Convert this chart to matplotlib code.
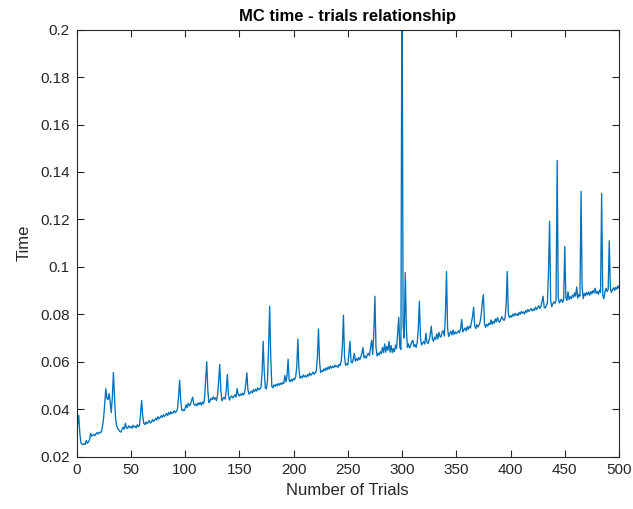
import numpy as np
import matplotlib
matplotlib.use("Agg")
import matplotlib.pyplot as plt
from matplotlib.ticker import FormatStrFormatter, MultipleLocator

# Monte Carlo run time (milliseconds) for 1..500 trials
time_ms = [
    33.5, 37.3, 30.0, 25.9, 25.2, 25.0, 25.4, 25.1, 26.8, 25.6,
    26.2, 27.0, 29.8, 28.6, 28.9, 29.4, 28.8, 29.6, 30.1, 29.5,
    30.2, 30.0, 30.6, 33.0, 36.4, 42.5, 48.6, 44.5, 44.0, 46.6,
    43.0, 38.5, 45.0, 55.4, 45.0, 36.0, 33.0, 31.8, 31.2, 30.5,
    30.3, 31.6, 32.4, 31.5, 34.0, 32.1, 31.8, 33.0, 32.2, 32.6,
    31.9, 33.2, 32.4, 32.8, 32.1, 33.4, 32.6, 33.1, 38.0, 43.6,
    37.0, 34.0, 33.5, 34.6, 33.8, 34.3, 35.2, 34.1, 34.5, 35.6,
    34.8, 35.3, 36.2, 35.4, 36.8, 35.9, 36.4, 37.2, 36.5, 37.6,
    36.9, 37.4, 38.2, 37.3, 38.6, 37.8, 38.9, 38.1, 38.4, 39.3,
    38.5, 39.0, 40.0, 45.0, 52.2, 44.0, 39.5, 39.8, 39.2, 40.1,
    41.8, 40.6, 42.5, 41.4, 42.0, 43.5, 45.0, 42.3, 41.6, 42.1,
    41.4, 42.6, 41.9, 42.8, 41.7, 43.0, 42.2, 44.5, 52.0, 60.0,
    48.0, 42.8, 43.4, 44.6, 44.0, 45.2, 44.1, 44.8, 43.6, 46.0,
    52.0, 58.8, 48.0, 43.5, 44.3, 45.0, 44.2, 48.0, 54.6, 46.0,
    43.8, 44.9, 45.6, 44.7, 45.3, 46.1, 45.0, 48.7, 46.2, 45.5,
    46.4, 45.8, 46.7, 46.0, 47.1, 50.5, 55.3, 48.0, 46.3, 46.9,
    47.5, 46.8, 48.2, 47.4, 48.4, 47.6, 49.0, 48.1, 48.6, 49.2,
    55.0, 68.6, 56.0, 49.0, 48.5, 52.0, 66.0, 83.4, 62.0, 49.5,
    49.0, 50.2, 49.6, 50.5, 49.8, 50.8, 50.1, 51.0, 50.4, 51.2,
    50.8, 54.2, 51.5, 54.0, 61.0, 52.0, 51.6, 52.6, 51.8, 52.9,
    52.4, 53.6, 58.0, 69.5, 57.0, 53.0, 53.8, 53.2, 54.4, 53.6,
    54.1, 53.5, 54.6, 53.9, 55.2, 54.3, 54.8, 55.6, 54.7, 55.3,
    56.0, 62.0, 73.8, 60.0, 55.4, 56.3, 55.8, 57.0, 56.2, 57.4,
    56.6, 57.8, 56.9, 58.2, 57.3, 58.0, 57.5, 58.6, 57.8, 58.3,
    57.6, 58.9, 58.4, 60.5, 66.0, 79.6, 62.0, 58.4, 59.2, 58.6,
    63.0, 68.6, 60.0, 59.4, 61.0, 63.5, 60.2, 61.3, 60.5, 61.8,
    60.8, 62.0, 63.5, 66.0, 61.6, 62.4, 61.5, 62.9, 63.5, 62.6,
    66.0, 69.0, 63.0, 72.0, 87.6, 66.0, 62.4, 63.6, 62.8, 64.2,
    63.4, 66.0, 63.8, 67.5, 64.0, 66.5, 64.8, 68.5, 64.0, 66.8,
    63.8, 65.5, 64.2, 67.0, 65.5, 72.0, 78.7, 66.0, 65.2, 240.0,
    75.0, 70.0, 97.6, 74.0, 66.0, 67.5, 65.8, 66.8, 68.5, 69.0,
    66.4, 67.2, 66.0, 68.0, 74.0, 85.5, 70.0, 67.0, 67.8, 68.5,
    67.4, 72.0, 68.2, 67.6, 69.0, 71.5, 75.0, 69.5, 68.6, 70.3,
    69.4, 71.8, 69.6, 72.4, 70.6, 70.4, 72.6, 73.0, 70.8, 80.0,
    98.0, 74.0, 70.6, 71.8, 72.8, 71.3, 73.4, 71.5, 72.6, 71.8,
    72.4, 73.0, 72.2, 74.0, 77.8, 72.6, 73.5, 74.2, 73.0, 74.8,
    73.6, 75.0, 74.2, 76.5, 79.0, 83.0, 75.0, 74.0, 75.6, 74.6,
    75.4, 76.8, 80.0, 85.0, 88.3, 76.0, 74.4, 75.8, 75.0, 76.2,
    75.6, 77.6, 75.8, 77.0, 76.2, 78.0, 76.8, 78.6, 77.2, 76.6,
    77.8, 79.0, 78.0, 77.4, 78.4, 84.0, 98.0, 80.0, 78.6, 79.4,
    78.8, 80.0, 79.2, 80.4, 79.6, 80.2, 79.4, 80.8, 80.0, 81.2,
    80.4, 81.0, 80.2, 81.6, 80.8, 82.0, 81.2, 81.8, 82.4, 81.4,
    82.2, 81.6, 83.0, 82.0, 82.8, 83.6, 82.4, 83.2, 85.5, 87.6,
    83.0, 82.6, 83.8, 84.6, 98.0, 119.2, 86.0, 83.2, 84.4, 85.2,
    84.6, 86.0, 144.8, 87.0, 84.8, 85.6, 86.4, 85.0, 86.2, 108.6,
    87.0, 85.8, 89.5, 86.2, 87.4, 86.6, 88.0, 87.2, 89.0, 87.6,
    91.5, 86.8, 88.4, 87.6, 131.8, 91.5, 86.6, 88.8, 87.8, 89.2,
    88.2, 89.4, 88.0, 89.6, 88.6, 90.0, 89.0, 91.0, 88.8, 89.6,
    88.4, 90.2, 89.2, 130.9, 88.0, 86.5, 89.4, 91.0, 89.6, 90.4,
    111.0, 91.0, 89.2, 90.4, 91.2, 90.0, 91.4, 90.6, 92.0, 91.0,
]
trials = np.arange(1, len(time_ms) + 1)
times = np.array(time_ms) / 1000.0

plt.rcParams["font.family"] = ["Liberation Sans", "DejaVu Sans"]
axis_color = "#262626"

fig = plt.figure(figsize=(6.33, 5.09), dpi=100)
ax = fig.add_axes([0.1209, 0.1031, 0.857, 0.8385])

ax.plot(trials, times, color="#0072BD", linewidth=0.95)

ax.set_xlim(0, 500)
ax.set_ylim(0.02, 0.2)
ax.xaxis.set_major_locator(MultipleLocator(50))
ax.yaxis.set_major_locator(MultipleLocator(0.02))
ax.yaxis.set_major_formatter(FormatStrFormatter("%g"))

ax.tick_params(direction="in", length=5, width=0.8, colors=axis_color,
               labelsize=11, top=True, right=True, pad=5)
for spine in ax.spines.values():
    spine.set_color(axis_color)
    spine.set_linewidth(0.8)

ax.set_xlabel("Number of Trials", fontsize=12, color=axis_color, labelpad=4)
ax.set_ylabel("Time", fontsize=12, color=axis_color, labelpad=6)
ax.set_title("MC time - trials relationship", fontsize=12, fontweight="bold",
             color="black", pad=6)

fig.savefig("out.png", dpi=100, facecolor="white")
